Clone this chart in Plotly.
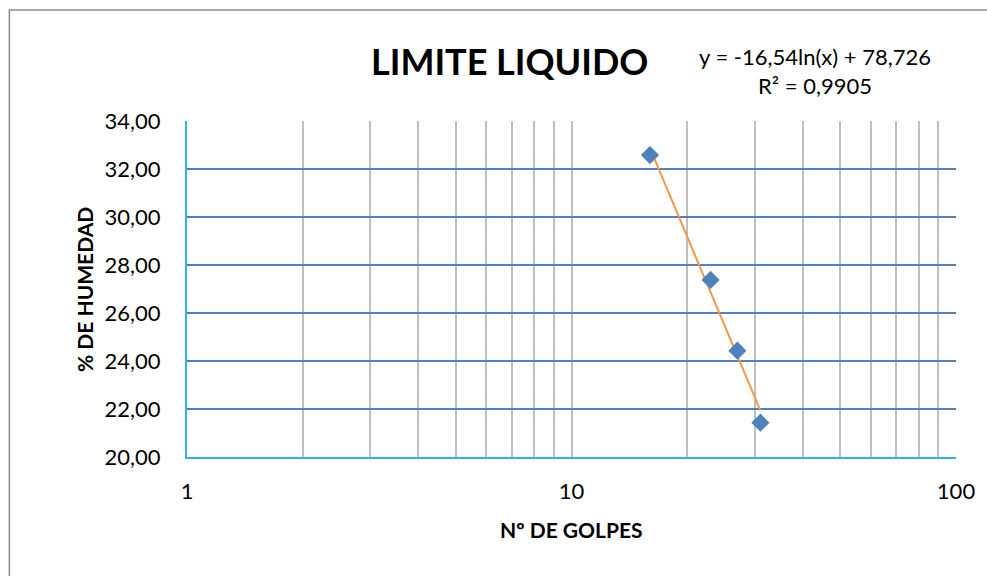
import numpy as np
import plotly.graph_objects as go

# Ensayo de limite liquido
golpes = [16, 23, 27, 31]
humedad = [32.58, 27.38, 24.43, 21.43]

# Logarithmic trendline reported by the chart
trend_slope = -16.54
trend_intercept = 78.726
trend_r2 = 0.9905

x_tickvals = [1, 2, 3, 4, 5, 6, 7, 8, 9, 10, 20, 30, 40, 50, 60, 70, 80, 90, 100]
x_ticktext = ["1", "", "", "", "", "", "", "", "", "10", "", "", "", "", "", "", "", "", "100"]
y_tickvals = [20, 22, 24, 26, 28, 30, 32, 34]

FONT = "Lato, 'Open Sans', sans-serif"
BLUE = "#4F81BD"
ORANGE = "#F79646"
AXIS_BLUE = "#2DB3EE"
GRID_GRAY = "#BFBFBF"

fig = go.Figure()

# trendline over the data range
tx = np.array([min(golpes), max(golpes)], dtype=float)
ty = trend_slope * np.log(tx) + trend_intercept
fig.add_trace(go.Scatter(
    x=tx, y=ty,
    mode="lines",
    line=dict(color=ORANGE, width=2),
    hoverinfo="skip",
    showlegend=False,
))

fig.add_trace(go.Scatter(
    x=golpes, y=humedad,
    mode="markers",
    marker=dict(symbol="diamond", size=14, color=BLUE),
    showlegend=False,
))

fig.update_layout(
    width=987, height=576,
    paper_bgcolor="white",
    plot_bgcolor="white",
    separators=",.",
    font=dict(family=FONT, color="#000000", size=22),
    margin=dict(l=187, r=25, t=121, b=119),
    xaxis=dict(
        type="log",
        range=[0, 2],
        tickvals=x_tickvals,
        ticktext=x_ticktext,
        showgrid=True,
        gridcolor=GRID_GRAY,
        gridwidth=1.5,
        showline=True,
        linecolor=AXIS_BLUE,
        linewidth=2,
        ticks="",
        ticklabelstandoff=14,
        tickfont=dict(size=22, color="#000000"),
        zeroline=False,
    ),
    yaxis=dict(
        range=[20, 34],
        tickvals=y_tickvals,
        tickformat=".2f",
        showgrid=True,
        gridcolor=BLUE,
        gridwidth=1.5,
        showline=True,
        linecolor=AXIS_BLUE,
        linewidth=2,
        ticks="",
        ticklabelstandoff=20,
        tickfont=dict(size=22, color="#000000"),
        zeroline=False,
    ),
)

# chart frame (right and bottom edges fall outside the picture)
fig.add_shape(
    type="rect", xref="paper", yref="paper",
    x0=-0.231, x1=1.05, y0=-0.40, y1=1.330,
    line=dict(color="#8C8C8C", width=1.5),
    fillcolor="rgba(0,0,0,0)",
    layer="below",
)

def note(text, x, y, size, angle=0):
    fig.add_annotation(
        x=x, y=y, xref="paper", yref="paper",
        xanchor="center", yanchor="middle",
        text=text, textangle=angle,
        showarrow=False, align="center",
        font=dict(size=size, family=FONT, color="#000000"),
    )

note("<b>LIMITE LIQUIDO</b>", 0.419, 1.179, 36)
note(f"y = {trend_slope:.2f}ln(x) + {trend_intercept:.3f}".replace(".", ",")
     + f"<br>R² = {trend_r2:.4f}".replace(".", ","), 0.816, 1.149, 22)
note("<b>Nº DE GOLPES</b>", 0.5, -0.217, 21)
note("<b>% DE HUMEDAD</b>", -0.134, 0.5, 21, angle=-90)

# drop the default page margin so the figure fills the window exactly
fig.write_html(
    "out.html",
    config={"displayModeBar": False},
    post_script="document.body.style.margin='0';document.body.style.overflow='hidden';",
)
